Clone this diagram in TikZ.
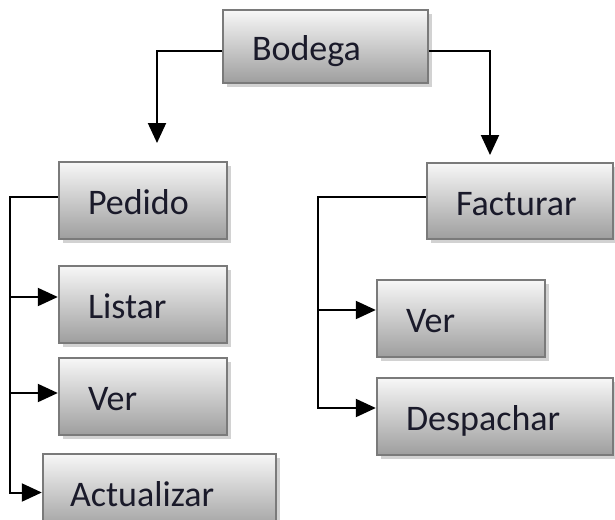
\documentclass[tikz,border=0pt]{standalone}
\usepackage{fontspec}
\setmainfont{Carlito}
\usetikzlibrary{arrows.meta,shadows}
\definecolor{boxborder}{HTML}{7A7A7A}
\definecolor{boxtop}{HTML}{F7F7F7}
\definecolor{boxbottom}{HTML}{9E9E9E}
\definecolor{txt}{HTML}{1A1A2A}
\tikzset{
  box/.style={rectangle, draw=boxborder, line width=2.4pt,
    top color=boxtop, bottom color=boxbottom,
    drop shadow={shadow xshift=4pt, shadow yshift=-4pt, fill=black!25, opacity=0.7},
    minimum width=#1, text width=#1, inner xsep=0pt, inner ysep=0pt,
    align=left, text height=28pt, text depth=0pt,
    font=\fontsize{36}{40}\selectfont, text=txt},
  conn/.style={draw=black, line width=2pt},
  arr/.style={conn, -{Triangle[length=20pt,width=18pt]}}
}
\begin{document}
\begin{tikzpicture}[x=1pt,y=-1pt]
\useasboundingbox (0,0) rectangle (615,519);
\clip (0,0) rectangle (615,519);
\node[box=205pt, minimum height=73pt] (Bodega) at (325.5,46.5) {\hspace*{29pt}Bodega};
\node[box=168pt, minimum height=77pt] (Pedido) at (143,200.5) {\hspace*{29pt}Pedido};
\node[box=168pt, minimum height=77pt] (Listar) at (143,304.5) {\hspace*{29pt}Listar};
\node[box=168pt, minimum height=77pt] (VerL) at (143,396.5) {\hspace*{29pt}Ver};
\node[box=233pt, minimum height=77pt] (Actualizar) at (159.5,492.5) {\hspace*{27pt}Actualizar};
\node[box=186pt, minimum height=76pt] (Facturar) at (520,201) {\hspace*{29pt}Facturar};
\node[box=168pt, minimum height=77pt] (VerR) at (461,318.5) {\hspace*{29pt}Ver};
\node[box=236pt, minimum height=77pt] (Despachar) at (495,416.5) {\hspace*{29pt}Despachar};

\coordinate (pa) at (157,143);
\coordinate (fa) at (490,155);
\coordinate (lt) at (10,197);
\coordinate (rt) at (318,197);

\draw[arr] ([yshift=-4.5pt]Bodega.west) -| (pa);
\draw[arr] ([yshift=-4.5pt]Bodega.east) -| (fa);

\draw[arr] ([yshift=3.5pt]Pedido.west) -- (lt) |- (Actualizar.west);
\draw[arr] ([yshift=7.5pt]Listar.west -| lt) -- ([yshift=7.5pt]Listar.west);
\draw[arr] ([yshift=3.5pt]VerL.west -| lt) -- ([yshift=3.5pt]VerL.west);

\draw[arr] ([yshift=4pt]Facturar.west) -- (rt) |- ([yshift=8.5pt]Despachar.west);
\draw[arr] ([yshift=8.5pt]VerR.west -| rt) -- ([yshift=8.5pt]VerR.west);
\end{tikzpicture}
\end{document}
